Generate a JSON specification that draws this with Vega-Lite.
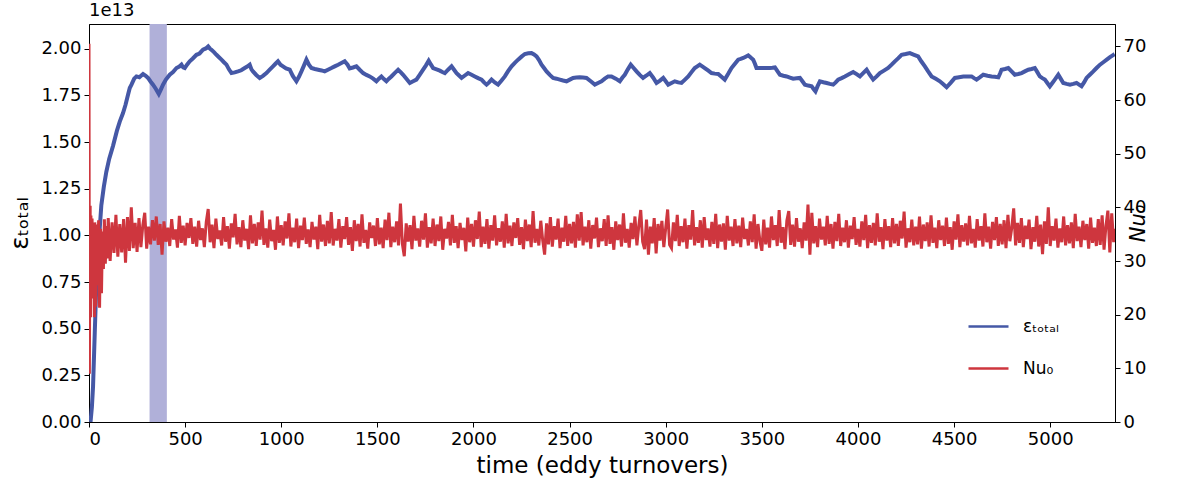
{
"$schema":"https://vega.github.io/schema/vega-lite/v6.json",
"autosize":{"type":"none"},
"width":1026,"height":398,
"padding":{"left":89,"top":24,"right":72,"bottom":66},
"background":"white",
"title":{"text":"1e13","anchor":"start","frame":"group","fontSize":18,"font":"DejaVu Sans","fontWeight":"normal","offset":4,"color":"black"},
"datasets":{
"band":[{"start":315,"end":405}],
"eps":[
{"t":8,"e":0.0},{"t":15,"e":0.08},{"t":21,"e":0.19},{"t":30,"e":0.48},{"t":38,"e":0.73},{"t":50,"e":0.95},{"t":64,"e":1.16},{"t":77,"e":1.26},{"t":90,"e":1.34},{"t":105,"e":1.41},{"t":125,"e":1.48},{"t":145,"e":1.56},{"t":160,"e":1.61},{"t":177,"e":1.656},{"t":190,"e":1.70},{"t":203,"e":1.754},{"t":212,"e":1.79},{"t":221,"e":1.808},{"t":235,"e":1.84},{"t":247,"e":1.852},{"t":262,"e":1.848},{"t":281,"e":1.865},{"t":295,"e":1.855},{"t":307,"e":1.844},{"t":320,"e":1.825},{"t":333,"e":1.808},{"t":348,"e":1.785},{"t":363,"e":1.758},{"t":373,"e":1.78},{"t":385,"e":1.808},{"t":400,"e":1.835},{"t":420,"e":1.861},{"t":437,"e":1.875},{"t":455,"e":1.897},{"t":470,"e":1.905},{"t":481,"e":1.915},{"t":490,"e":1.90},{"t":498,"e":1.897},{"t":510,"e":1.915},{"t":524,"e":1.933},{"t":540,"e":1.948},{"t":559,"e":1.968},{"t":575,"e":1.975},{"t":593,"e":1.995},{"t":608,"e":2.002},{"t":620,"e":2.013},{"t":630,"e":2.0},{"t":637,"e":1.995},{"t":650,"e":1.982},{"t":663,"e":1.968},{"t":676,"e":1.955},{"t":689,"e":1.942},{"t":702,"e":1.928},{"t":715,"e":1.915},{"t":728,"e":1.89},{"t":741,"e":1.870},{"t":758,"e":1.874},{"t":775,"e":1.879},{"t":792,"e":1.885},{"t":810,"e":1.897},{"t":823,"e":1.905},{"t":836,"e":1.915},{"t":845,"e":1.89},{"t":853,"e":1.879},{"t":870,"e":1.86},{"t":888,"e":1.844},{"t":905,"e":1.855},{"t":923,"e":1.870},{"t":940,"e":1.888},{"t":957,"e":1.906},{"t":970,"e":1.92},{"t":983,"e":1.933},{"t":996,"e":1.915},{"t":1009,"e":1.906},{"t":1025,"e":1.895},{"t":1044,"e":1.888},{"t":1060,"e":1.855},{"t":1079,"e":1.826},{"t":1092,"e":1.85},{"t":1105,"e":1.879},{"t":1118,"e":1.91},{"t":1131,"e":1.942},{"t":1144,"e":1.915},{"t":1157,"e":1.897},{"t":1175,"e":1.892},{"t":1192,"e":1.888},{"t":1210,"e":1.884},{"t":1226,"e":1.879},{"t":1243,"e":1.888},{"t":1261,"e":1.897},{"t":1278,"e":1.906},{"t":1296,"e":1.915},{"t":1313,"e":1.924},{"t":1330,"e":1.933},{"t":1345,"e":1.915},{"t":1356,"e":1.895},{"t":1373,"e":1.90},{"t":1391,"e":1.906},{"t":1408,"e":1.888},{"t":1426,"e":1.870},{"t":1443,"e":1.86},{"t":1460,"e":1.852},{"t":1478,"e":1.84},{"t":1495,"e":1.826},{"t":1508,"e":1.84},{"t":1521,"e":1.852},{"t":1534,"e":1.838},{"t":1547,"e":1.826},{"t":1560,"e":1.84},{"t":1573,"e":1.852},{"t":1590,"e":1.87},{"t":1608,"e":1.888},{"t":1621,"e":1.875},{"t":1634,"e":1.861},{"t":1651,"e":1.84},{"t":1669,"e":1.817},{"t":1686,"e":1.826},{"t":1703,"e":1.835},{"t":1720,"e":1.86},{"t":1738,"e":1.888},{"t":1752,"e":1.91},{"t":1767,"e":1.936},{"t":1779,"e":1.915},{"t":1790,"e":1.897},{"t":1808,"e":1.89},{"t":1825,"e":1.883},{"t":1838,"e":1.876},{"t":1851,"e":1.870},{"t":1868,"e":1.888},{"t":1886,"e":1.906},{"t":1899,"e":1.888},{"t":1912,"e":1.870},{"t":1925,"e":1.857},{"t":1938,"e":1.844},{"t":1955,"e":1.857},{"t":1972,"e":1.870},{"t":1990,"e":1.861},{"t":2007,"e":1.852},{"t":2024,"e":1.843},{"t":2042,"e":1.835},{"t":2055,"e":1.82},{"t":2068,"e":1.808},{"t":2081,"e":1.82},{"t":2094,"e":1.835},{"t":2111,"e":1.82},{"t":2128,"e":1.808},{"t":2146,"e":1.83},{"t":2163,"e":1.852},{"t":2180,"e":1.88},{"t":2198,"e":1.906},{"t":2215,"e":1.925},{"t":2232,"e":1.942},{"t":2250,"e":1.958},{"t":2267,"e":1.972},{"t":2285,"e":1.976},{"t":2302,"e":1.977},{"t":2315,"e":1.97},{"t":2328,"e":1.959},{"t":2341,"e":1.94},{"t":2354,"e":1.915},{"t":2367,"e":1.897},{"t":2380,"e":1.879},{"t":2397,"e":1.86},{"t":2414,"e":1.844},{"t":2432,"e":1.84},{"t":2449,"e":1.835},{"t":2466,"e":1.83},{"t":2484,"e":1.826},{"t":2501,"e":1.835},{"t":2518,"e":1.844},{"t":2535,"e":1.846},{"t":2553,"e":1.847},{"t":2570,"e":1.846},{"t":2588,"e":1.844},{"t":2610,"e":1.826},{"t":2631,"e":1.808},{"t":2648,"e":1.817},{"t":2666,"e":1.826},{"t":2683,"e":1.84},{"t":2700,"e":1.852},{"t":2718,"e":1.852},{"t":2740,"e":1.84},{"t":2761,"e":1.826},{"t":2774,"e":1.845},{"t":2787,"e":1.861},{"t":2803,"e":1.89},{"t":2818,"e":1.915},{"t":2833,"e":1.897},{"t":2848,"e":1.879},{"t":2865,"e":1.86},{"t":2882,"e":1.844},{"t":2900,"e":1.857},{"t":2917,"e":1.870},{"t":2935,"e":1.845},{"t":2952,"e":1.817},{"t":2970,"e":1.83},{"t":2987,"e":1.844},{"t":3000,"e":1.826},{"t":3013,"e":1.808},{"t":3030,"e":1.817},{"t":3047,"e":1.826},{"t":3065,"e":1.82},{"t":3082,"e":1.817},{"t":3100,"e":1.835},{"t":3117,"e":1.852},{"t":3134,"e":1.875},{"t":3151,"e":1.897},{"t":3164,"e":1.906},{"t":3177,"e":1.915},{"t":3190,"e":1.906},{"t":3203,"e":1.897},{"t":3220,"e":1.884},{"t":3238,"e":1.870},{"t":3255,"e":1.867},{"t":3273,"e":1.865},{"t":3290,"e":1.85},{"t":3307,"e":1.835},{"t":3325,"e":1.866},{"t":3342,"e":1.897},{"t":3360,"e":1.92},{"t":3377,"e":1.942},{"t":3390,"e":1.946},{"t":3403,"e":1.951},{"t":3416,"e":1.958},{"t":3429,"e":1.965},{"t":3442,"e":1.953},{"t":3455,"e":1.942},{"t":3464,"e":1.92},{"t":3472,"e":1.897},{"t":3490,"e":1.897},{"t":3507,"e":1.897},{"t":3525,"e":1.897},{"t":3542,"e":1.897},{"t":3555,"e":1.898},{"t":3568,"e":1.900},{"t":3581,"e":1.88},{"t":3594,"e":1.861},{"t":3612,"e":1.856},{"t":3629,"e":1.852},{"t":3646,"e":1.846},{"t":3663,"e":1.840},{"t":3681,"e":1.842},{"t":3698,"e":1.844},{"t":3711,"e":1.826},{"t":3724,"e":1.808},{"t":3741,"e":1.803},{"t":3759,"e":1.799},{"t":3769,"e":1.785},{"t":3779,"e":1.772},{"t":3790,"e":1.80},{"t":3802,"e":1.826},{"t":3820,"e":1.821},{"t":3837,"e":1.817},{"t":3854,"e":1.812},{"t":3871,"e":1.808},{"t":3884,"e":1.82},{"t":3897,"e":1.835},{"t":3915,"e":1.843},{"t":3932,"e":1.852},{"t":3953,"e":1.864},{"t":3975,"e":1.876},{"t":3993,"e":1.864},{"t":4010,"e":1.852},{"t":4027,"e":1.87},{"t":4045,"e":1.888},{"t":4062,"e":1.86},{"t":4079,"e":1.835},{"t":4097,"e":1.852},{"t":4114,"e":1.870},{"t":4135,"e":1.883},{"t":4157,"e":1.897},{"t":4175,"e":1.915},{"t":4192,"e":1.933},{"t":4210,"e":1.95},{"t":4227,"e":1.968},{"t":4248,"e":1.972},{"t":4270,"e":1.977},{"t":4292,"e":1.968},{"t":4313,"e":1.959},{"t":4330,"e":1.932},{"t":4348,"e":1.906},{"t":4365,"e":1.879},{"t":4383,"e":1.852},{"t":4405,"e":1.839},{"t":4426,"e":1.826},{"t":4444,"e":1.81},{"t":4461,"e":1.794},{"t":4483,"e":1.819},{"t":4504,"e":1.844},{"t":4526,"e":1.848},{"t":4548,"e":1.852},{"t":4570,"e":1.852},{"t":4591,"e":1.852},{"t":4604,"e":1.843},{"t":4617,"e":1.835},{"t":4635,"e":1.848},{"t":4652,"e":1.861},{"t":4674,"e":1.856},{"t":4695,"e":1.852},{"t":4712,"e":1.85},{"t":4730,"e":1.847},{"t":4739,"e":1.868},{"t":4747,"e":1.888},{"t":4765,"e":1.892},{"t":4782,"e":1.897},{"t":4799,"e":1.879},{"t":4816,"e":1.861},{"t":4834,"e":1.865},{"t":4851,"e":1.870},{"t":4868,"e":1.879},{"t":4886,"e":1.888},{"t":4903,"e":1.892},{"t":4920,"e":1.897},{"t":4933,"e":1.875},{"t":4946,"e":1.852},{"t":4959,"e":1.843},{"t":4972,"e":1.835},{"t":4985,"e":1.817},{"t":4998,"e":1.799},{"t":5011,"e":1.817},{"t":5024,"e":1.835},{"t":5033,"e":1.848},{"t":5042,"e":1.861},{"t":5055,"e":1.839},{"t":5068,"e":1.817},{"t":5085,"e":1.812},{"t":5103,"e":1.808},{"t":5120,"e":1.812},{"t":5137,"e":1.817},{"t":5150,"e":1.808},{"t":5163,"e":1.799},{"t":5176,"e":1.82},{"t":5189,"e":1.844},{"t":5206,"e":1.861},{"t":5224,"e":1.879},{"t":5241,"e":1.897},{"t":5259,"e":1.915},{"t":5276,"e":1.928},{"t":5294,"e":1.942},{"t":5311,"e":1.955},{"t":5329,"e":1.968},{"t":5335,"e":1.972}
],
"nu":[
{"t":0,"n":70.5},{"t":2,"n":9.0},{"t":4,"n":30},{"t":6,"n":40.3},{"t":8,"n":19.5},{"t":10,"n":38.5},{"t":13,"n":23},{"t":16,"n":37.9},{"t":20,"n":26},{"t":24,"n":36.5},{"t":28,"n":19.5},{"t":30,"n":37.2},{"t":35,"n":21.5},{"t":40,"n":36.8},{"t":45,"n":25.5},{"t":50,"n":37.6},{"t":55,"n":21.3},{"t":60,"n":36.0},{"t":65,"n":24.0},{"t":70,"n":35.5},{"t":75,"n":28.5},{"t":80,"n":37.8},{"t":85,"n":29.5},{"t":90,"n":36.5},{"t":95,"n":30.5},{"t":100,"n":38.0},{"t":110,"n":30.0},{"t":120,"n":37.2},{"t":130,"n":31.5},{"t":140,"n":38.6},{"t":150,"n":30.8},{"t":160,"n":36.9},{"t":170,"n":31.6},{"t":180,"n":37.8},{"t":190,"n":29.7},{"t":200,"n":38.2},{"t":210,"n":31.9},{"t":220,"n":40.0},{"t":230,"n":32.4},{"t":240,"n":37.1},{"t":250,"n":31.7},{"t":260,"n":38.0},{"t":270,"n":32.6},{"t":280,"n":36.7},{"t":290,"n":39.0},{"t":300,"n":32.3},
{"t":310,"n":36.4},{"t":320,"n":33.1},{"t":330,"n":37.6},{"t":340,"n":33.8},{"t":350,"n":38.3},{"t":360,"n":33.0},{"t":370,"n":36.9},{"t":380,"n":31.2},{"t":390,"n":37.4},{"t":400,"n":33.6},
{"t":410,"n":36.2},{"t":420,"n":32.8},{"t":430,"n":37.8},{"t":440,"n":34.0},{"t":450,"n":35.9},{"t":460,"n":32.5},{"t":470,"n":38.4},{"t":480,"n":33.4},{"t":490,"n":36.6},{"t":500,"n":32.9},
{"t":510,"n":37.1},{"t":520,"n":34.3},{"t":530,"n":38.0},{"t":540,"n":33.2},{"t":550,"n":36.4},{"t":560,"n":32.7},{"t":570,"n":37.5},{"t":580,"n":33.9},{"t":590,"n":36.1},{"t":600,"n":32.6},
{"t":610,"n":37.3},{"t":620,"n":39.7},{"t":630,"n":33.5},{"t":640,"n":36.8},{"t":650,"n":32.4},{"t":660,"n":37.9},{"t":670,"n":34.1},{"t":680,"n":35.7},{"t":690,"n":32.9},{"t":700,"n":38.2},
{"t":710,"n":33.6},{"t":720,"n":36.5},{"t":730,"n":32.3},{"t":740,"n":37.0},{"t":750,"n":34.4},{"t":760,"n":38.8},{"t":770,"n":33.1},{"t":780,"n":36.3},{"t":790,"n":32.6},{"t":800,"n":37.6},
{"t":810,"n":33.8},{"t":820,"n":36.0},{"t":830,"n":32.2},{"t":840,"n":38.5},{"t":850,"n":33.3},{"t":860,"n":36.9},{"t":870,"n":32.8},{"t":880,"n":37.2},{"t":890,"n":34.0},{"t":900,"n":39.4},
{"t":910,"n":33.0},{"t":920,"n":36.1},{"t":930,"n":32.5},{"t":940,"n":37.7},{"t":950,"n":33.7},{"t":960,"n":35.8},{"t":970,"n":32.1},{"t":980,"n":38.3},{"t":990,"n":33.4},{"t":1000,"n":36.7},
{"t":1010,"n":32.9},{"t":1020,"n":37.4},{"t":1030,"n":34.2},{"t":1040,"n":38.9},{"t":1050,"n":32.7},{"t":1060,"n":36.2},{"t":1070,"n":33.5},{"t":1080,"n":37.9},{"t":1090,"n":32.4},{"t":1100,"n":36.6},
{"t":1110,"n":33.9},{"t":1120,"n":38.1},{"t":1130,"n":33.2},{"t":1140,"n":35.9},{"t":1150,"n":32.6},{"t":1160,"n":37.3},{"t":1170,"n":34.0},{"t":1180,"n":36.4},{"t":1190,"n":32.2},{"t":1200,"n":38.6},
{"t":1210,"n":33.6},{"t":1220,"n":36.8},{"t":1230,"n":32.8},{"t":1240,"n":37.5},{"t":1250,"n":33.3},{"t":1260,"n":39.1},{"t":1270,"n":32.9},{"t":1280,"n":36.0},{"t":1290,"n":33.8},{"t":1300,"n":37.8},
{"t":1310,"n":32.5},{"t":1320,"n":36.5},{"t":1330,"n":34.1},{"t":1340,"n":38.2},{"t":1350,"n":33.0},{"t":1360,"n":36.3},{"t":1370,"n":31.9},{"t":1380,"n":37.6},{"t":1390,"n":33.7},{"t":1400,"n":36.9},
{"t":1410,"n":32.7},{"t":1420,"n":38.7},{"t":1430,"n":33.4},{"t":1440,"n":35.8},{"t":1450,"n":32.3},{"t":1460,"n":37.2},{"t":1470,"n":34.3},{"t":1480,"n":36.6},{"t":1490,"n":32.8},{"t":1500,"n":38.0},
{"t":1510,"n":33.1},{"t":1520,"n":36.2},{"t":1530,"n":32.4},{"t":1540,"n":37.7},{"t":1550,"n":33.9},{"t":1560,"n":39.0},{"t":1570,"n":32.6},{"t":1580,"n":36.4},{"t":1590,"n":33.5},{"t":1600,"n":37.4},
{"t":1610,"n":32.9},{"t":1620,"n":40.7},{"t":1630,"n":33.2},{"t":1640,"n":30.9},{"t":1650,"n":37.0},{"t":1660,"n":33.6},{"t":1670,"n":36.7},{"t":1680,"n":32.2},{"t":1690,"n":38.4},{"t":1700,"n":33.8},
{"t":1710,"n":36.1},{"t":1720,"n":32.7},{"t":1730,"n":37.5},{"t":1740,"n":34.0},{"t":1750,"n":38.9},{"t":1760,"n":32.5},{"t":1770,"n":36.3},{"t":1780,"n":33.3},{"t":1790,"n":37.9},{"t":1800,"n":32.8},
{"t":1810,"n":36.8},{"t":1820,"n":33.7},{"t":1830,"n":38.3},{"t":1840,"n":32.1},{"t":1850,"n":36.0},{"t":1860,"n":34.2},{"t":1870,"n":37.3},{"t":1880,"n":32.9},{"t":1890,"n":38.6},{"t":1900,"n":33.4},
{"t":1910,"n":36.5},{"t":1920,"n":32.4},{"t":1930,"n":37.1},{"t":1940,"n":33.9},{"t":1950,"n":36.2},{"t":1960,"n":31.8},{"t":1970,"n":38.1},{"t":1980,"n":33.5},{"t":1990,"n":36.9},{"t":2000,"n":32.7},
{"t":2010,"n":37.6},{"t":2020,"n":34.1},{"t":2030,"n":39.2},{"t":2040,"n":32.6},{"t":2050,"n":36.4},{"t":2060,"n":33.2},{"t":2070,"n":37.8},{"t":2080,"n":32.3},{"t":2090,"n":36.7},{"t":2100,"n":33.8},
{"t":2110,"n":38.5},{"t":2120,"n":32.9},{"t":2130,"n":36.1},{"t":2140,"n":33.6},{"t":2150,"n":37.4},{"t":2160,"n":32.5},{"t":2170,"n":38.8},{"t":2180,"n":33.3},{"t":2190,"n":36.6},{"t":2200,"n":32.8},
{"t":2210,"n":37.2},{"t":2220,"n":34.3},{"t":2230,"n":38.0},{"t":2240,"n":33.0},{"t":2250,"n":36.3},{"t":2260,"n":32.2},{"t":2270,"n":37.7},{"t":2280,"n":33.7},{"t":2290,"n":36.8},{"t":2300,"n":32.6},
{"t":2310,"n":39.3},{"t":2320,"n":33.4},{"t":2330,"n":36.0},{"t":2340,"n":32.9},{"t":2350,"n":37.5},{"t":2360,"n":33.9},{"t":2370,"n":31.2},{"t":2380,"n":37.0},{"t":2390,"n":33.1},{"t":2400,"n":38.2},
{"t":2410,"n":32.7},{"t":2420,"n":36.5},{"t":2430,"n":34.0},{"t":2440,"n":37.9},{"t":2450,"n":32.4},{"t":2460,"n":36.2},{"t":2470,"n":33.6},{"t":2480,"n":38.4},{"t":2490,"n":32.8},{"t":2500,"n":36.9},
{"t":2510,"n":33.3},{"t":2520,"n":37.3},{"t":2530,"n":32.5},{"t":2540,"n":38.7},{"t":2550,"n":33.8},{"t":2560,"n":39.1},{"t":2570,"n":32.9},{"t":2580,"n":36.4},{"t":2590,"n":33.5},{"t":2600,"n":37.6},
{"t":2610,"n":32.3},{"t":2620,"n":36.7},{"t":2630,"n":34.2},{"t":2640,"n":38.1},{"t":2650,"n":32.6},{"t":2660,"n":36.1},{"t":2670,"n":33.7},{"t":2680,"n":37.8},{"t":2690,"n":32.8},{"t":2700,"n":38.5},
{"t":2710,"n":33.2},{"t":2720,"n":36.3},{"t":2730,"n":32.1},{"t":2740,"n":37.4},{"t":2750,"n":33.9},{"t":2760,"n":36.8},{"t":2770,"n":32.7},{"t":2780,"n":38.9},{"t":2790,"n":33.4},{"t":2800,"n":36.0},
{"t":2810,"n":32.5},{"t":2820,"n":37.1},{"t":2830,"n":34.1},{"t":2840,"n":38.3},{"t":2850,"n":32.9},{"t":2860,"n":36.6},{"t":2870,"n":39.5},{"t":2880,"n":33.6},{"t":2890,"n":32.2},{"t":2900,"n":37.7},
{"t":2910,"n":31.2},{"t":2920,"n":36.4},{"t":2930,"n":33.3},{"t":2940,"n":38.0},{"t":2950,"n":31.4},{"t":2960,"n":36.9},{"t":2970,"n":33.8},{"t":2980,"n":37.5},{"t":2990,"n":32.6},{"t":3000,"n":36.2},
{"t":3010,"n":39.6},{"t":3020,"n":33.0},{"t":3030,"n":32.4},{"t":3040,"n":37.2},{"t":3050,"n":33.7},{"t":3060,"n":38.6},{"t":3070,"n":32.8},{"t":3080,"n":36.5},{"t":3090,"n":33.5},{"t":3100,"n":37.9},
{"t":3110,"n":32.3},{"t":3120,"n":36.7},{"t":3130,"n":34.0},{"t":3140,"n":39.5},{"t":3150,"n":32.9},{"t":3160,"n":36.3},{"t":3170,"n":33.4},{"t":3180,"n":37.6},{"t":3190,"n":32.5},{"t":3200,"n":38.2},
{"t":3210,"n":33.9},{"t":3220,"n":36.1},{"t":3230,"n":32.7},{"t":3240,"n":37.3},{"t":3250,"n":33.2},{"t":3260,"n":38.8},{"t":3270,"n":32.4},{"t":3280,"n":36.8},{"t":3290,"n":33.6},{"t":3300,"n":37.0},
{"t":3310,"n":32.1},{"t":3320,"n":38.4},{"t":3330,"n":33.8},{"t":3340,"n":36.4},{"t":3350,"n":32.8},{"t":3360,"n":37.8},{"t":3370,"n":33.3},{"t":3380,"n":36.6},{"t":3390,"n":32.6},{"t":3400,"n":38.1},
{"t":3410,"n":34.1},{"t":3420,"n":36.0},{"t":3430,"n":32.9},{"t":3440,"n":37.4},{"t":3450,"n":33.5},{"t":3460,"n":38.7},{"t":3470,"n":32.3},{"t":3480,"n":36.9},{"t":3490,"n":33.7},{"t":3500,"n":31.9},
{"t":3510,"n":37.7},{"t":3520,"n":33.1},{"t":3530,"n":36.2},{"t":3540,"n":32.5},{"t":3550,"n":38.3},{"t":3560,"n":33.9},{"t":3570,"n":36.7},{"t":3580,"n":32.8},{"t":3590,"n":39.5},{"t":3600,"n":33.4},
{"t":3610,"n":36.3},{"t":3620,"n":32.2},{"t":3630,"n":37.5},{"t":3640,"n":39.3},{"t":3650,"n":33.0},{"t":3660,"n":36.8},{"t":3670,"n":32.7},{"t":3680,"n":38.0},{"t":3690,"n":33.6},{"t":3700,"n":36.1},
{"t":3710,"n":32.4},{"t":3720,"n":37.2},{"t":3730,"n":33.8},{"t":3740,"n":40.5},{"t":3750,"n":31.2},{"t":3760,"n":39.0},{"t":3770,"n":33.3},{"t":3780,"n":36.5},{"t":3790,"n":32.6},{"t":3800,"n":37.9},
{"t":3810,"n":34.0},{"t":3820,"n":36.4},{"t":3830,"n":32.9},{"t":3840,"n":38.4},{"t":3850,"n":33.2},{"t":3860,"n":36.9},{"t":3870,"n":32.3},{"t":3880,"n":37.3},{"t":3890,"n":33.7},{"t":3900,"n":38.8},
{"t":3910,"n":32.8},{"t":3920,"n":36.2},{"t":3930,"n":33.5},{"t":3940,"n":37.6},{"t":3950,"n":32.5},{"t":3960,"n":36.6},{"t":3970,"n":34.1},{"t":3980,"n":38.2},{"t":3990,"n":33.0},{"t":4000,"n":36.0},
{"t":4010,"n":32.7},{"t":4020,"n":37.4},{"t":4030,"n":33.9},{"t":4040,"n":38.6},{"t":4050,"n":32.4},{"t":4060,"n":36.7},{"t":4070,"n":33.4},{"t":4080,"n":37.1},{"t":4090,"n":32.9},{"t":4100,"n":38.9},
{"t":4110,"n":33.6},{"t":4120,"n":36.3},{"t":4130,"n":32.2},{"t":4140,"n":37.8},{"t":4150,"n":33.8},{"t":4160,"n":36.5},{"t":4170,"n":32.6},{"t":4180,"n":38.0},{"t":4190,"n":33.3},{"t":4200,"n":36.9},
{"t":4210,"n":32.8},{"t":4220,"n":37.5},{"t":4230,"n":34.2},{"t":4240,"n":39.2},{"t":4250,"n":32.5},{"t":4260,"n":36.1},{"t":4270,"n":33.5},{"t":4280,"n":37.7},{"t":4290,"n":32.9},{"t":4300,"n":36.4},
{"t":4310,"n":33.1},{"t":4320,"n":38.3},{"t":4330,"n":32.3},{"t":4340,"n":36.8},{"t":4350,"n":33.7},{"t":4360,"n":37.2},{"t":4370,"n":32.7},{"t":4380,"n":38.5},{"t":4390,"n":33.4},{"t":4400,"n":36.2},
{"t":4410,"n":32.4},{"t":4420,"n":37.6},{"t":4430,"n":33.9},{"t":4440,"n":36.6},{"t":4450,"n":32.8},{"t":4460,"n":38.1},{"t":4470,"n":33.2},{"t":4480,"n":36.3},{"t":4490,"n":32.1},{"t":4500,"n":37.4},
{"t":4510,"n":34.0},{"t":4520,"n":38.7},{"t":4530,"n":32.6},{"t":4540,"n":36.7},{"t":4550,"n":33.6},{"t":4560,"n":37.0},{"t":4570,"n":32.9},{"t":4580,"n":38.4},{"t":4590,"n":33.3},{"t":4600,"n":36.0},
{"t":4610,"n":32.5},{"t":4620,"n":37.8},{"t":4630,"n":33.8},{"t":4640,"n":36.5},{"t":4650,"n":32.7},{"t":4660,"n":38.9},{"t":4670,"n":33.5},{"t":4680,"n":36.4},{"t":4690,"n":32.3},{"t":4700,"n":37.3},
{"t":4710,"n":33.9},{"t":4720,"n":38.2},{"t":4730,"n":32.8},{"t":4740,"n":36.9},{"t":4750,"n":33.1},{"t":4760,"n":37.6},{"t":4770,"n":32.4},{"t":4780,"n":38.6},{"t":4790,"n":33.7},{"t":4800,"n":36.2},
{"t":4810,"n":39.8},{"t":4820,"n":32.9},{"t":4830,"n":37.1},{"t":4840,"n":33.4},{"t":4850,"n":38.0},{"t":4860,"n":32.6},{"t":4870,"n":36.6},{"t":4880,"n":34.1},{"t":4890,"n":37.7},{"t":4900,"n":32.2},
{"t":4910,"n":36.3},{"t":4920,"n":33.6},{"t":4930,"n":38.4},{"t":4940,"n":32.7},{"t":4950,"n":36.8},{"t":4960,"n":31.3},{"t":4970,"n":37.4},{"t":4980,"n":33.2},{"t":4990,"n":40.0},{"t":5000,"n":32.8},
{"t":5010,"n":36.5},{"t":5020,"n":33.8},{"t":5030,"n":37.9},{"t":5040,"n":32.5},{"t":5050,"n":36.1},{"t":5060,"n":33.5},{"t":5070,"n":38.3},{"t":5080,"n":32.9},{"t":5090,"n":36.7},{"t":5100,"n":33.3},
{"t":5110,"n":37.2},{"t":5120,"n":32.4},{"t":5130,"n":38.8},{"t":5140,"n":33.7},{"t":5150,"n":36.4},{"t":5160,"n":32.6},{"t":5170,"n":37.5},{"t":5180,"n":33.9},{"t":5190,"n":36.9},{"t":5200,"n":32.3},
{"t":5210,"n":38.1},{"t":5220,"n":33.4},{"t":5230,"n":36.2},{"t":5240,"n":32.8},{"t":5250,"n":37.8},{"t":5260,"n":33.0},{"t":5270,"n":38.5},{"t":5280,"n":32.1},{"t":5290,"n":36.6},{"t":5300,"n":39.4},
{"t":5310,"n":31.6},{"t":5320,"n":38.9},{"t":5330,"n":33.5},{"t":5335,"n":36.0}
]
},
"layer":[
{"data":{"name":"band"},"mark":{"type":"rect","color":"#b0b0d9","opacity":1},
 "encoding":{"x":{"field":"start","type":"quantitative","scale":{"domain":[0,5337],"nice":false,"zero":false}},"x2":{"field":"end"}}},
{"data":{"name":"eps"},"mark":{"type":"line","strokeWidth":4,"clip":true},
 "encoding":{
  "x":{"field":"t","type":"quantitative","scale":{"domain":[0,5337],"nice":false,"zero":false},
       "axis":{"title":"time (eddy turnovers)","values":[0,500,1000,1500,2000,2500,3000,3500,4000,4500,5000],"format":"d","titleFontSize":23,"titlePadding":6}},
  "y":{"field":"e","type":"quantitative","scale":{"domain":[0,2.133],"nice":false,"zero":false},
       "axis":{"title":"εₜₒₜₐₗ","values":[0,0.25,0.5,0.75,1,1.25,1.5,1.75,2],"format":".2f","titleFontSize":25,"titlePadding":8,"orient":"left"}},
  "color":{"datum":"εₜₒₜₐₗ","type":"nominal","scale":{"domain":["εₜₒₜₐₗ","Nu₀"],"range":["#4558a6","#ce363e"]}}
 }},
{"data":{"name":"nu"},"mark":{"type":"line","strokeWidth":3,"clip":true},
 "encoding":{
  "x":{"field":"t","type":"quantitative"},
  "y":{"field":"n","type":"quantitative","scale":{"domain":[0,74.17],"nice":false,"zero":false},
       "axis":{"title":"Nu₀","orient":"right","values":[0,10,20,30,40,50,60,70],"titleFontStyle":"italic","titleAngle":270,"titleFontSize":21,"titlePadding":3}},
  "color":{"datum":"Nu₀","type":"nominal"}
 }}
],
"resolve":{"scale":{"y":"independent"},"axis":{"y":"independent"}},
"config":{
 "font":"DejaVu Sans",
 "view":{"stroke":"black","strokeWidth":1},
 "axis":{"grid":false,"domainColor":"black","domainWidth":1,"tickColor":"black","tickSize":5,"tickWidth":1,"labelColor":"black","labelFontSize":18,"labelFont":"DejaVu Sans","titleFont":"DejaVu Sans","titleFontWeight":"normal","titleColor":"black","labelPadding":3},
 "legend":{"orient":"none","legendX":878,"legendY":281,"title":null,"symbolType":"stroke","symbolSize":1600,"symbolStrokeWidth":2.5,"labelFontSize":17,"labelFont":"DejaVu Sans","labelColor":"black","labelOffset":13,"rowPadding":12}
}
}
